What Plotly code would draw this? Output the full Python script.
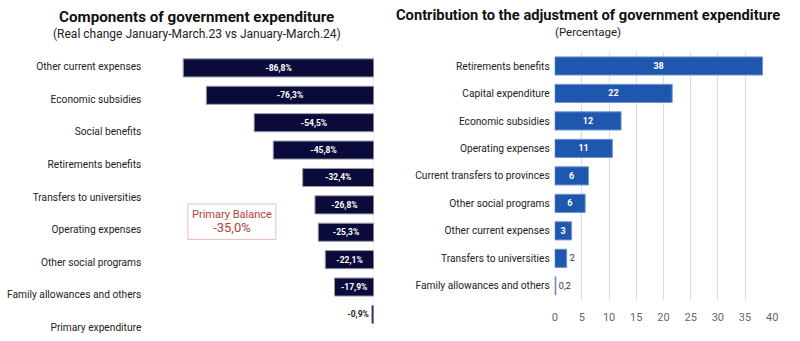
import plotly.graph_objects as go

W, H = 800, 341

# ---------------- data ----------------
left_labels = ["Other current expenses", "Economic subsidies", "Social benefits",
               "Retirements benefits", "Transfers to universities", "Operating expenses",
               "Other social programs", "Family allowances and others", "Primary expenditure"]
left_values = [-86.8, -76.3, -54.5, -45.8, -32.4, -26.8, -25.3, -22.1, -17.9, -0.9]

right_labels = ["Retirements benefits", "Capital expenditure", "Economic subsidies",
                "Operating expenses", "Current transfers to provinces", "Other social programs",
                "Other current expenses", "Transfers to universities", "Family allowances and others"]
right_values = [38.2, 21.6, 12.2, 10.6, 6.2, 5.6, 3.1, 2.2, 0.2]
right_ticks = [0, 5, 10, 15, 20, 25, 30, 35, 40]

primary_balance = -35.0

FONT = "Roboto"
def px_y(p):
    return 1 - p / H

def px_x(p):
    return p / W

fig = go.Figure()

# ---------- left chart ----------
left_text = ["<b>" + f"{v:.1f}%".replace(".", ",") + "</b>" for v in left_values]
left_pos = ["inside" if abs(v) > 5 else "outside" for v in left_values]
fig.add_trace(go.Bar(
    x=left_values, y=list(range(len(left_values))), orientation="h",
    xaxis="x", yaxis="y",
    marker=dict(color="#0b0b3b", line=dict(color="#9a9aa8", width=1)),
    width=0.66,
    text=left_text, textposition=left_pos, insidetextanchor="middle",
    insidetextfont=dict(color="white", size=8.5, family=FONT),
    outsidetextfont=dict(color="#222222", size=8.5, family=FONT),
    textangle=0, cliponaxis=False, hoverinfo="skip", showlegend=False,
))
# invisible trace carrying the category labels of the left chart
fig.add_trace(go.Scatter(
    x=[0] * len(left_labels), y=list(range(len(left_labels))),
    xaxis="x", yaxis="y2", mode="markers", marker=dict(opacity=0),
    hoverinfo="skip", showlegend=False,
))

# ---------- right chart ----------
right_text = [f"{v:.1f}".replace(".", ",") if v < 1 else f"{round(v):d}" for v in right_values]
right_text = [("<b>" + t + "</b>") if v >= 3 else t for t, v in zip(right_text, right_values)]
right_pos = ["inside" if v >= 3 else "outside" for v in right_values]
fig.add_trace(go.Bar(
    x=right_values, y=list(range(len(right_values))), orientation="h",
    xaxis="x3", yaxis="y3",
    marker=dict(color="#1f56ae", line=dict(color="#6f95d6", width=1)),
    width=0.66,
    text=right_text, textposition=right_pos, insidetextanchor="middle",
    insidetextfont=dict(color="white", size=9, family=FONT),
    outsidetextfont=dict(color="#333333", size=9, family=FONT),
    textangle=0, cliponaxis=False, hoverinfo="skip", showlegend=False,
))

# left bars: 10 rows
lb_top, lb_bot = 55, 333
nL = len(left_values)
# labels: centres at lab0 + labstep*j px
lab0, labstep = 67.5, 33.1

fig.update_layout(
    width=W, height=H, margin=dict(l=0, r=0, t=0, b=0),
    paper_bgcolor="white", plot_bgcolor="white",
    font=dict(family=FONT, color="#222222", size=11),
    xaxis=dict(domain=[px_x(153), px_x(375)], range=[-100, 0], visible=False, fixedrange=True),
    yaxis=dict(domain=[px_y(lb_bot), px_y(lb_top)], range=[nL - 0.5, -0.5],
               visible=False, anchor="x"),
    yaxis2=dict(overlaying="y", anchor="free", position=px_x(146),
                range=[(lb_bot - lab0) / labstep, (lb_top - lab0) / labstep],
                tickvals=list(range(len(left_labels))), ticktext=left_labels,
                showgrid=False, zeroline=False, showline=False,
                ticks="outside", ticklen=4, tickcolor="rgba(0,0,0,0)",
                tickfont=dict(size=10.2, color="#222222", family=FONT)),
    xaxis3=dict(domain=[px_x(558), px_x(778)], range=[0, 40], anchor="y3",
                tickvals=right_ticks, showgrid=True, gridcolor="#dcdcdc", gridwidth=1,
                zeroline=False, showline=False,
                ticks="outside", ticklen=7, tickcolor="rgba(0,0,0,0)",
                tickfont=dict(size=11, color="#666666", family=FONT)),
    yaxis3=dict(domain=[px_y(304), px_y(53)], range=[len(right_values) - 0.5, -0.5],
                anchor="x3", tickvals=list(range(len(right_labels))), ticktext=right_labels,
                showgrid=False, zeroline=False, showline=False,
                ticks="outside", ticklen=2, tickcolor="rgba(0,0,0,0)",
                tickfont=dict(size=10.2, color="#222222", family=FONT)),
)

# thin axis line on the left chart at zero
fig.add_shape(type="line", xref="x", yref="paper", x0=0, x1=0,
              y0=px_y(332), y1=px_y(56), line=dict(color="#e6e6e6", width=1), layer="below")

# Primary balance box
fig.add_shape(type="rect", xref="paper", yref="paper",
              x0=px_x(187), x1=px_x(276), y0=px_y(243), y1=px_y(207),
              line=dict(color="#ebbcb8", width=1), fillcolor="white")
fig.add_annotation(xref="paper", yref="paper", x=px_x(231.5), y=px_y(225),
                   xanchor="center", yanchor="middle",
                   text="Primary Balance<br><span style='font-size:13px'>"
                        + f"{primary_balance:.1f}%".replace(".", ",") + "</span>",
                   showarrow=False, font=dict(size=11, color="#b0443a", family=FONT),
                   align="center")

# Titles
fig.add_annotation(xref="paper", yref="paper", x=px_x(196), y=px_y(17),
                   xanchor="center", yanchor="middle",
                   text="<b>Components of government expenditure</b>", showarrow=False,
                   font=dict(size=15.2, color="#111111", family=FONT))
fig.add_annotation(xref="paper", yref="paper", x=px_x(196), y=px_y(34),
                   xanchor="center", yanchor="middle",
                   text="(Real change January-March.23 vs January-March.24)", showarrow=False,
                   font=dict(size=12, color="#222222", family=FONT))
fig.add_annotation(xref="paper", yref="paper", x=px_x(592), y=px_y(15),
                   xanchor="center", yanchor="middle",
                   text="<b>Contribution to the adjustment of government expenditure</b>",
                   showarrow=False, font=dict(size=14.7, color="#111111", family=FONT))
fig.add_annotation(xref="paper", yref="paper", x=px_x(592), y=px_y(32),
                   xanchor="center", yanchor="middle",
                   text="(Percentage)", showarrow=False,
                   font=dict(size=11.5, color="#222222", family=FONT))

fig.write_html("out.html")
